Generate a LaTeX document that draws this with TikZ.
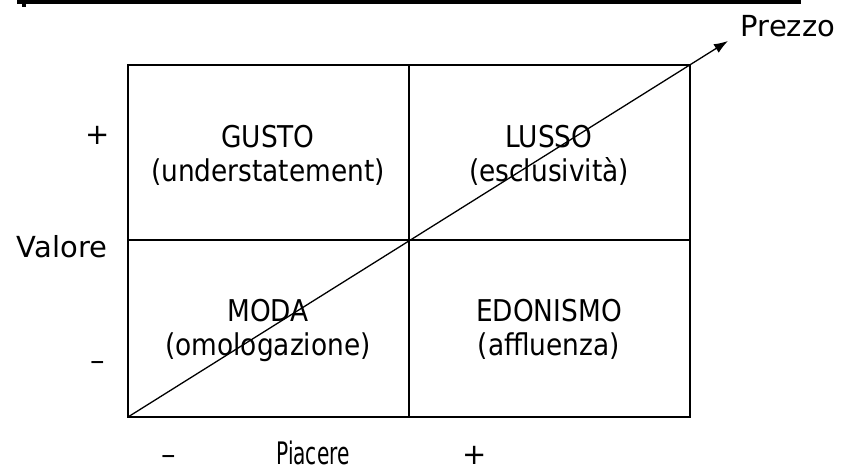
\documentclass[tikz,border=0pt]{standalone}
\usepackage{fontspec}
\setmainfont{DejaVu Sans}
\newfontfamily\quadfont{DejaVu Sans}[FakeStretch=0.88]
\newfontfamily\narrowfont{DejaVu Sans}[FakeStretch=0.65]
\usepackage{tikz}
\usetikzlibrary{positioning}
\usetikzlibrary{arrows.meta}

\begin{document}
\begin{tikzpicture}[
    x=1pt,y=-1pt,
    every node/.style={font=\fontsize{29}{34}\selectfont,inner sep=0pt,anchor=base},
    quad/.style={align=center,font=\fontsize{30}{34}\quadfont},
    frame/.style={line width=1.4pt}
    ]
    \useasboundingbox (0,0) rectangle (847,474);

    % bar at the top
    \fill (17,0) rectangle (801,4);
    \fill (22,4) rectangle (26,7);

    \coordinate (sw) at (128,417);
    \coordinate (ne) at (690,65);
    \coordinate (mid) at (409,240);
    \coordinate (tip) at (728,41);

    \draw[frame] (sw) rectangle (ne);
    \draw[frame] (mid |- ne) -- (mid |- sw);
    \draw[frame] (mid -| sw) -- (mid -| ne);

    % base anchor sits on the second line
    \node[quad] (gusto) at (268,181) {GUSTO\\(understatement)};
    \node[quad] (lusso) at (549,181) {LUSSO\\(esclusività)};
    \node[quad] (moda) at (268,355) {MODA\\(omologazione)};
    \node[quad] (edonismo) at (549,355) {EDONISMO\\(affluenza)};

    \node (prezzo) at (788,36) {Prezzo};

    \node (vplus) at (98,144) {+};
    \node (valore) at (62,257) {Valore};
    \node (vminus) at (98,370) {–};

    \node (pminus) at (169,464) {–};
    \node[font=\fontsize{31}{34}\narrowfont] (piacere) at (313,464) {Piacere};
    \node (pplus) at (475,464) {+};

    \path (sw) edge[-{Latex[length=14pt,width=10pt]},line width=1.3pt] (tip);
\end{tikzpicture}
\end{document}
